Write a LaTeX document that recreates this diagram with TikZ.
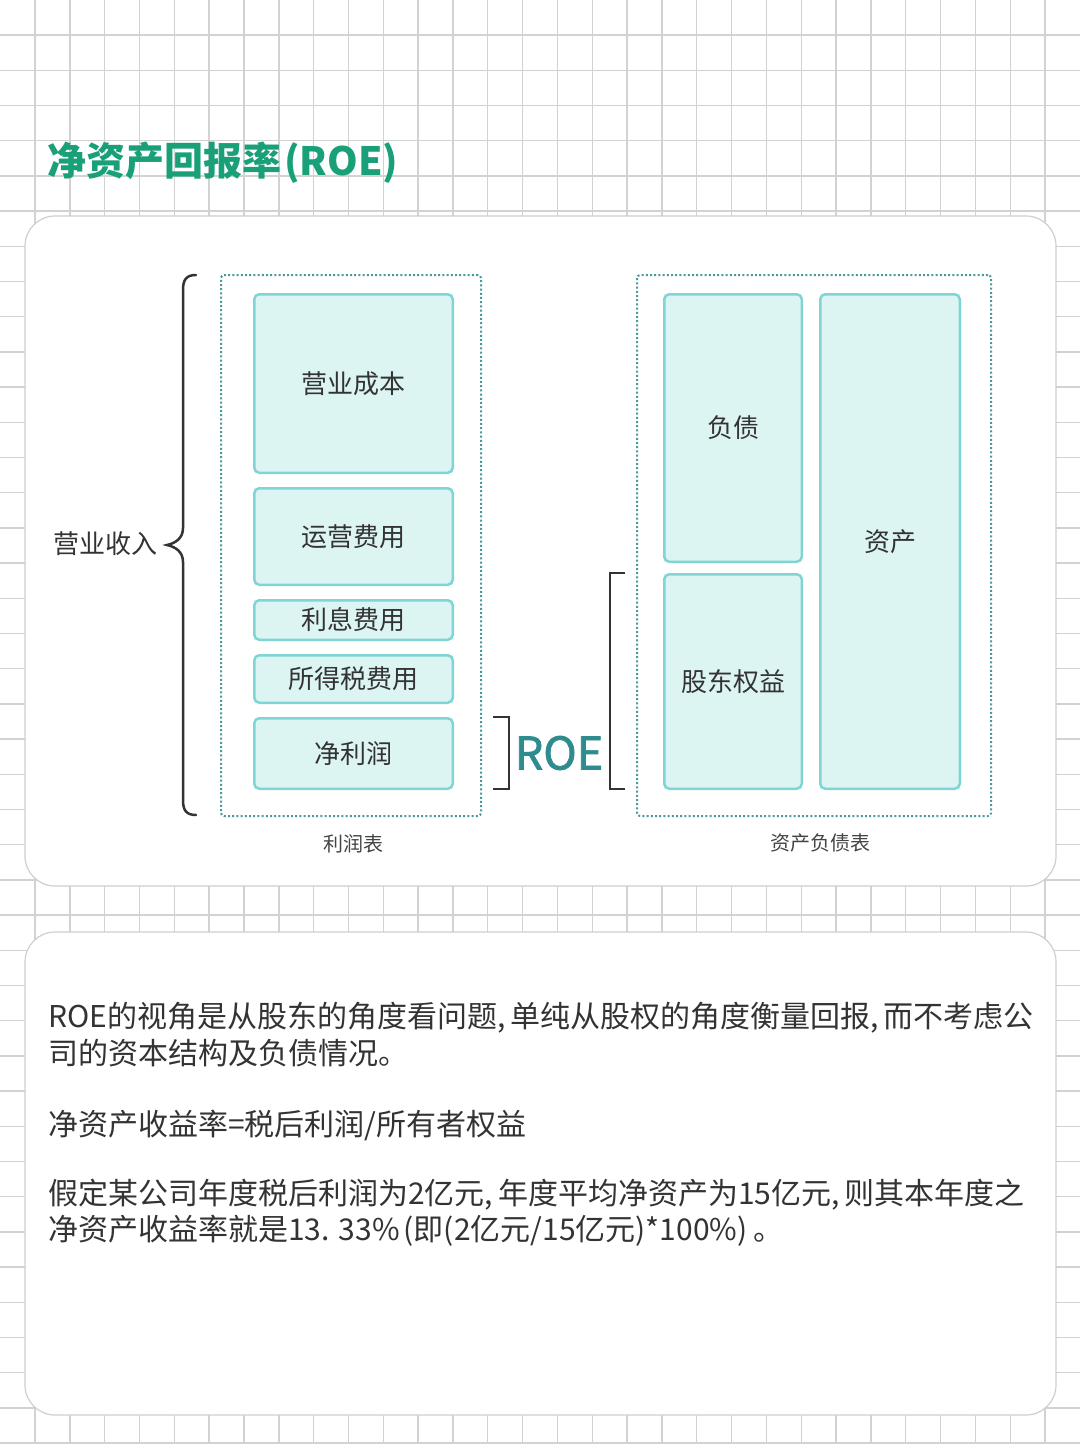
\documentclass[tikz,border=0pt]{standalone}
\usepackage{fontspec}
\setmainfont{Noto Sans CJK SC}
\definecolor{gridc}{HTML}{D2D2D2}
\definecolor{cardc}{HTML}{CFCFCF}
\definecolor{titlec}{HTML}{1AA079}
\definecolor{roec}{HTML}{2E8B8E}
\definecolor{cellfill}{HTML}{DCF5F3}
\definecolor{celldraw}{HTML}{7FD4D4}
\definecolor{framec}{HTML}{4A9A9A}
\definecolor{inkc}{HTML}{333333}
\definecolor{subc}{HTML}{444444}
\newcommand{\cm}{,\hspace{5pt}}
\begin{document}
\begin{tikzpicture}[x=1pt,y=-1pt,
  gridline/.style={draw=gridc,line width=1.4pt},
  card/.style={draw=cardc,fill=white,line width=1.2pt,rounded corners=30pt},
  cellbox/.style={draw=celldraw,fill=cellfill,line width=2.5pt,rounded corners=5pt,
    inner sep=0pt,text=inkc,font=\fontsize{26}{30}\selectfont},
  frame/.style={draw=framec,line width=2pt,dash pattern=on 2pt off 2.2pt,rounded corners=3pt,inner sep=0pt},
  capt/.style={text=subc,font=\fontsize{20}{24}\selectfont,inner sep=0pt},
  bodytext/.style={anchor=west,text=inkc,font=\fontsize{30}{36}\selectfont,inner sep=0pt},
  bracketline/.style={draw=inkc,line width=2.5pt}]
\useasboundingbox (0,0) rectangle (1080,1444);
\fill[white] (0,0) rectangle (1080,1444);
% grid
\foreach \i in {0,...,29} \draw[gridline] ({35+\i*34.83},0) -- ({35+\i*34.83},1444);
\foreach \j in {0,...,40} \draw[gridline] (0,{35+\j*35.2}) -- (1080,{35+\j*35.2});
% title
\node[anchor=west,inner sep=0pt,text=titlec,font=\fontsize{39}{44}\selectfont\bfseries] (title) at (47,163) {净资产回报率\hspace{3pt}(ROE)};
% cards
\draw[card] (25,216) rectangle (1056,886);
\draw[card] (25,932) rectangle (1056,1415);
% frames
\node[frame,minimum width=260pt,minimum height=541pt] (isframe) at (351,545.5) {};
\node[frame,minimum width=354pt,minimum height=541pt] (bsframe) at (814,545.5) {};
% income statement cells
\node[cellbox,minimum width=198.5pt,minimum height=178.5pt] (cost) at (353.5,383.5) {营业成本};
\node[cellbox,minimum width=198.5pt,minimum height=96.5pt] (opex) at (353.5,536.5) {运营费用};
\node[cellbox,minimum width=198.5pt,minimum height=39.5pt] (interest) at (353.5,620) {利息费用};
\node[cellbox,minimum width=198.5pt,minimum height=47.5pt] (tax) at (353.5,679) {所得税费用};
\node[cellbox,minimum width=198.5pt,minimum height=70.5pt] (net) at (353.5,753.5) {净利润};
% balance sheet cells
\node[cellbox,minimum width=137.5pt,minimum height=267.5pt] (liab) at (733,428) {负债};
\node[cellbox,minimum width=137.5pt,minimum height=214.5pt] (equity) at (733,681.5) {股东权益};
\node[cellbox,minimum width=139.5pt,minimum height=494.5pt] (assets) at (890,541.5) {资产};
% captions
\node[capt] (islabel) at (353,844) {利润表};
\node[capt] (bslabel) at (820,843) {资产负债表};
% revenue brace
\node[inner sep=0pt,text=inkc,font=\fontsize{26}{30}\selectfont] (rev) at (105.5,544) {营业收入};
\coordinate (bt) at (196,275);
\coordinate (bb) at (196,815);
\coordinate (btip) at (167,545);
\draw[bracketline,line cap=round] (bt) .. controls (186,275) and (183,280) .. (183,290)
  -- (183,528) .. controls (183,538) and (176,543) .. (btip)
  .. controls (176,547) and (183,552) .. (183,562)
  -- (183,800) .. controls (183,810) and (186,815) .. (bb);
% ROE brackets
\coordinate (rb1) at (493,717);
\coordinate (rb2) at (493,789);
\draw[bracketline] (rb1) -- (509,717) -- (509,789) -- (rb2);
\coordinate (lb1) at (625,573);
\coordinate (lb2) at (625,789);
\draw[bracketline] (lb1) -- (610,573) -- (610,789) -- (lb2);
\node[inner sep=0pt,text=roec,font=\fontsize{45}{48}\selectfont\addfontfeature{FakeBold=1.6}] (roe) at (559,753) {ROE};
% body text
\node[bodytext] (l1) at (48,1018) {ROE的视角是从股东的角度看问题\cm 单纯从股权的角度衡量回报\cm 而不考虑公};
\node[bodytext] (l2) at (48,1053) {司的资本结构及负债情况。};
\node[bodytext] (l3) at (48,1125) {净资产收益率=税后利润/所有者权益};
\node[bodytext] (l4) at (48,1195) {假定某公司年度税后利润为2亿元\cm 年度平均净资产为15亿元\cm 则其本年度之};
\node[bodytext] (l5) at (48,1231) {净资产收益率就是13. 33\%\hspace{4pt}(即(2亿元/15亿元)*100\%)\hspace{6pt}。};
\end{tikzpicture}
\end{document}
